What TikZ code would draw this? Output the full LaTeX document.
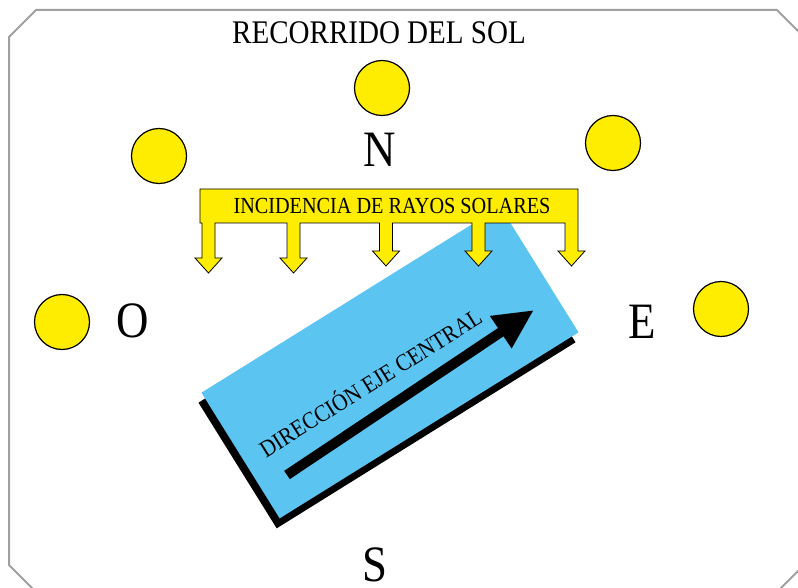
\documentclass[tikz,border=0pt]{standalone}
\usepackage{fontspec}
\setmainfont[FakeStretch=0.88]{Liberation Serif}
\usepackage{tikz}
\usetikzlibrary{arrows.meta,calc}
\definecolor{solamarillo}{RGB}{255,237,0}
\definecolor{placaazul}{RGB}{91,196,241}
\definecolor{marcogris}{RGB}{160,160,160}

\begin{document}
\begin{tikzpicture}[
    x=1pt, y=-1pt,
    sol/.style={circle, draw, line width=1.2pt, fill=solamarillo, minimum size=55pt, inner sep=0pt},
    letra/.style={anchor=base, inner sep=0pt, font=\fontsize{51}{51}\selectfont},
    rotulo/.style={anchor=base, inner sep=0pt},
    placa/.style={rectangle, rotate=31.9, minimum width=352pt, minimum height=148pt, inner sep=0pt},
    rayo/.style={draw, line width=0.8pt, fill=solamarillo, line join=miter},
    flecha/.style={-{Triangle[length=40pt, width=36pt]}, line width=10pt}
  ]
  \clip (0,0) rectangle (798,588);
  % marco
  \draw[marcogris, line width=2pt] (36,10) -- (777,10) -- (804,37) -- (804,565) -- (777,592) -- (36,592) -- (9,565) -- (9,37) -- cycle;
  \node[rotulo, font=\fontsize{33}{33}\selectfont] (titulo) at (379,44) {RECORRIDO DEL SOL};

  % soles
  \node[sol] (sol1) at (62,322) {};
  \node[sol] (sol2) at (159,156) {};
  \node[sol] (sol3) at (382,88) {};
  \node[sol] (sol4) at (613,143) {};
  \node[sol] (sol5) at (721,309) {};

  % puntos cardinales
  \node[letra] (norte) at (380,167) {N};
  \node[letra] (oeste) at (133,337) {O};
  \node[letra] (este) at (642,338) {E};
  \node[letra] (sur) at (375,581) {S};

  % placa
  \node[placa, fill=black] (sombra) at (387,372.5) {};
  \node[placa, fill=placaazul] (placa) at (390,362.5) {};
  \coordinate (eje0) at (287,475);
  \coordinate (eje1) at (534,310);
  \draw[flecha] (eje0) -- (eje1);
  \node[rotulo, rotate=32, font=\fontsize{24}{24}\selectfont] (eje) at (375,390) {DIRECCIÓN EJE CENTRAL};

  % rayos
  \draw[rayo] (200,189) -- (578,189)
    \foreach \c/\t in {571.5/266, 478.5/266, 386/266, 293.5/273, 208.5/273} {
      -- (\c+6.5,223) -- (\c+6.5,\t-15) -- (\c+13.5,\t-15) -- (\c,\t)
      -- (\c-13.5,\t-15) -- (\c-6.5,\t-15) -- (\c-6.5,223)
    } -- (200,223) -- cycle;
  \node[rotulo, font=\fontsize{23}{23}\selectfont] (rayos) at (392,214) {INCIDENCIA DE RAYOS SOLARES};
\end{tikzpicture}
\end{document}
